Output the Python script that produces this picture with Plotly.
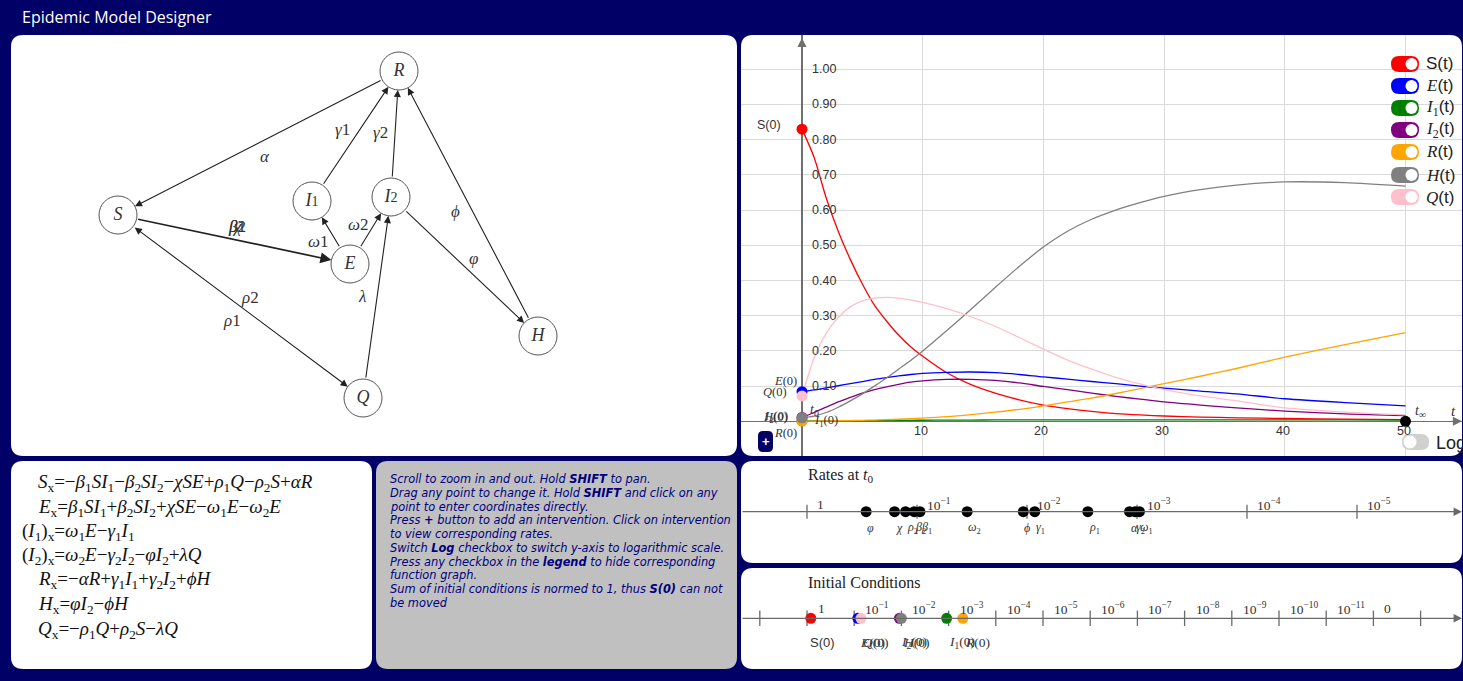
import numpy as np
import plotly.graph_objects as go

W, H = 1463, 681
NAVY = "#000066"
SERIF = "Liberation Serif"
SANS = "Liberation Sans"

# ---------------- model output (fractions of population) ----------------
t = [0, 1, 2, 3, 4, 5, 6, 7, 8, 9, 10, 12, 14, 16, 18, 20, 22, 24, 26, 28, 30, 33, 36, 40, 45, 50]
S = [0.83, 0.75, 0.635, 0.54, 0.46, 0.39, 0.33, 0.285, 0.245, 0.212, 0.185, 0.138, 0.104, 0.08,
     0.061, 0.046, 0.036, 0.028, 0.022, 0.018, 0.015, 0.012, 0.01, 0.008, 0.006, 0.005]
E = [0.084, 0.089, 0.095, 0.101, 0.107, 0.113, 0.119, 0.124, 0.129, 0.133, 0.136, 0.139, 0.14,
     0.138, 0.133, 0.126, 0.12, 0.113, 0.107, 0.1, 0.094, 0.086, 0.078, 0.064, 0.053, 0.044]
I1 = [0.0011, 0.0012, 0.0014, 0.0016, 0.0018, 0.002, 0.0022, 0.0024, 0.0026, 0.0028, 0.003,
      0.0033, 0.0036, 0.0038, 0.004, 0.0041, 0.0042, 0.0043, 0.0043, 0.0043, 0.0043, 0.0042,
      0.0041, 0.004, 0.0038, 0.0036]
I2 = [0.011, 0.025, 0.04, 0.055, 0.068, 0.08, 0.09, 0.098, 0.105, 0.111, 0.115, 0.119, 0.119,
      0.116, 0.109, 0.099, 0.09, 0.08, 0.071, 0.063, 0.055, 0.046, 0.038, 0.029, 0.021, 0.016]
R = [0.0005, 0.0007, 0.001, 0.0015, 0.002, 0.0028, 0.0036, 0.0046, 0.0058, 0.0072, 0.0088,
     0.013, 0.019, 0.026, 0.034, 0.044, 0.055, 0.066, 0.079, 0.093, 0.107, 0.128, 0.15, 0.182,
     0.218, 0.252]
Hs = [0.010, 0.015, 0.025, 0.04, 0.058, 0.078, 0.1, 0.123, 0.148, 0.173, 0.2, 0.258, 0.318, 0.38,
      0.44, 0.495, 0.54, 0.574, 0.6, 0.621, 0.639, 0.658, 0.671, 0.68, 0.678, 0.668]
Q = [0.072, 0.18, 0.25, 0.295, 0.325, 0.342, 0.35, 0.352, 0.35, 0.345, 0.338, 0.32, 0.297, 0.27,
     0.238, 0.205, 0.174, 0.148, 0.125, 0.106, 0.09, 0.072, 0.058, 0.038, 0.026, 0.018]

t_end = 50

# compartments: key, values, colour
comp_keys = ["S", "E", "I1", "I2", "R", "H", "Q"]
comp_vals = [S, E, I1, I2, R, Hs, Q]
comp_colors = ["#ff0000", "#0000ff", "#008000", "#800080", "#ffa500", "#808080", "#ffc0cb"]

# initial conditions (as plotted on the log line)
ic_keys = ["S", "E", "Q", "I2", "H", "I1", "R"]
ic_values = [0.83, 0.084, 0.072, 0.011, 0.010, 0.0011, 0.0005]
ic_colors = ["#ff0000", "#0000ff", "#ffc0cb", "#800080", "#808080", "#008000", "#ffa500"]

# transition rates at t0
rate_names = ["φ", "χ", "ρ2", "β2", "β1", "ω2", "ϕ", "γ1", "ρ1", "α", "γ2", "ω1"]
rate_values = [0.29, 0.16, 0.127, 0.106, 0.094, 0.035, 0.0108, 0.0085, 0.0028, 0.00117,
               0.00104, 0.00095]

rate_ticks = [1, 1e-1, 1e-2, 1e-3, 1e-4, 1e-5]
ic_ticks = [10.0 ** k for k in range(1, -14, -1)]
ic_tick_text = ["", "1"] + [f"10<sup>−{k}</sup>" for k in range(1, 12)] + ["0", ""]

x_ticks = [10, 20, 30, 40, 50]
y_ticks = [round(0.1 * k, 2) for k in range(1, 11)]

# compartment diagram
node_names = ["S", "E", "I1", "I2", "R", "H", "Q"]
node_x = [118, 350, 312, 391, 399, 538, 363]
node_y = [215, 264, 201, 197, 71, 336, 398]
edges = [("R", "S"), ("I1", "R"), ("I2", "R"), ("H", "R"), ("I2", "H"), ("S", "E"),
         ("E", "I1"), ("E", "I2"), ("Q", "I2"), ("S", "Q")]
edge_labels = ["α", "γ1", "γ2", "ϕ", "φ", "β1|β2|χ", "ω1", "ω2", "λ", "ρ2|ρ1"]
edge_label_x = [265, 342, 380, 455, 473, 237, 318, 358, 362, 250]
edge_label_y = [157, 130, 133, 212, 258, 227, 242, 225, 296, 297]


# ---------------- helpers ----------------
def px(x):
    return x / W


def py(y):
    return 1 - y / H


def rrect(x0, y0, x1, y1, r):
    pts = [
        ("M", [(x0 + r, y0)]), ("L", [(x1 - r, y0)]), ("Q", [(x1, y0), (x1, y0 + r)]),
        ("L", [(x1, y1 - r)]), ("Q", [(x1, y1), (x1 - r, y1)]), ("L", [(x0 + r, y1)]),
        ("Q", [(x0, y1), (x0, y1 - r)]), ("L", [(x0, y0 + r)]), ("Q", [(x0, y0), (x0 + r, y0)]),
    ]
    out = []
    for cmd, ps in pts:
        out.append(cmd + " ".join(f"{px(a):.6f},{py(b):.6f}" for a, b in ps))
    return " ".join(out) + " Z"


def math_label(key):
    # italic serif letter with an index
    if key in ("I1", "I2"):
        return f"<i>I</i><sub>{key[1]}</sub>"
    return f"<i>{key}</i>"


def greek(s):
    if len(s) == 2 and s[1].isdigit():
        return f"<i>{s[0]}</i>{s[1]}"
    return f"<i>{s}</i>"


def greek_sub(s):
    if len(s) == 2 and s[1].isdigit():
        return f"<i>{s[0]}</i><sub>{s[1]}</sub>"
    return f"<i>{s}</i>"


shapes = []
annotations = []


def note(x, y, text, size=12, color="#333333", family=SANS, xanchor="center",
         yanchor="middle", xref="paper", yref="paper", **kw):
    annotations.append(dict(x=x, y=y, text=text, xref=xref, yref=yref, showarrow=False,
                            xanchor=xanchor, yanchor=yanchor,
                            font=dict(size=size, color=color, family=family), **kw))


# ---------------- panels ----------------
panels = [
    (11, 35, 737, 456, "white"),
    (741, 35, 1462, 456, "white"),
    (11, 461, 372, 669, "white"),
    (376, 461, 737, 669, "#c0c0c0"),
    (741, 461, 1462, 563, "white"),
    (741, 568, 1462, 669, "white"),
]
for x0, y0, x1, y1, col in panels:
    shapes.append(dict(type="path", path=rrect(x0, y0, x1, y1, 12), xref="paper", yref="paper",
                       fillcolor=col, line=dict(width=0), layer="below"))

note(px(20), py(17), "Epidemic Model Designer", size=16, color="white", family="Open Sans",
     xanchor="left")

fig = go.Figure()

# ---------------- time series chart ----------------
T0X, T0Y, SX, SY = 802, 421.3, 12.07, 352.0
for key, vals, col in zip(comp_keys, comp_vals, comp_colors):
    fig.add_trace(go.Scatter(x=t, y=vals, mode="lines", xaxis="x", yaxis="y",
                             line=dict(color=col, width=1.3, shape="spline", smoothing=0.8),
                             hoverinfo="skip"))

dot_order = ["I1", "R", "I2", "H", "E", "Q", "S"]
for key in dot_order:
    i = comp_keys.index(key)
    fig.add_trace(go.Scatter(x=[t[0]], y=[comp_vals[i][0]], mode="markers", xaxis="x", yaxis="y",
                             marker=dict(color=comp_colors[i], size=11), hoverinfo="skip"))
fig.add_trace(go.Scatter(x=[t_end], y=[0], mode="markers", xaxis="x", yaxis="y",
                         marker=dict(color="black", size=11), hoverinfo="skip"))

for xv in x_ticks:
    note(xv, 0, str(xv), size=12.5, color="#333", xref="x", yref="y", yshift=-10, xshift=-2)
for yv in y_ticks:
    note(0, yv, f"{yv:.2f}", size=12.5, color="#333", xref="x", yref="y", xanchor="left", xshift=8)

# axis arrowheads
annotations.append(dict(x=0, y=(T0Y - 38) / SY, xref="x", yref="y", ax=0, ay=12, text="",
                        showarrow=True, arrowhead=2, arrowsize=1.4, arrowwidth=1.3,
                        arrowcolor="#707070"))
annotations.append(dict(x=(1462 - T0X) / SX, y=0, xref="x", yref="y", ax=-12, ay=0, text="",
                        showarrow=True, arrowhead=2, arrowsize=1.4, arrowwidth=1.3,
                        arrowcolor="#707070"))

# initial value labels
note(0, S[0], "S(0)", size=12.5, color="#333", xref="x", yref="y", xanchor="right", xshift=-19, yshift=4)
note(0, E[0], "<i>E</i>(0)", size=12.5, family=SERIF, xref="x", yref="y", xanchor="right", xshift=-3, yshift=11)
note(0, Q[0], "<i>Q</i>(0)", size=12.5, family=SERIF, xref="x", yref="y", xanchor="right", xshift=-13, yshift=4)
note(0, Hs[0], "<i>H</i>(0)", size=12.5, family=SERIF, xref="x", yref="y", xanchor="right", xshift=-12, yshift=1)
note(0, I2[0], "<i>I</i><sub>2</sub>(0)", size=12.5, family=SERIF, xref="x", yref="y", xanchor="right", xshift=-12, yshift=0)
note(0, R[0], "<i>R</i>(0)", size=12.5, family=SERIF, xref="x", yref="y", xanchor="right", xshift=-3, yshift=-12)
note(0, I1[0], "<i>I</i><sub>1</sub>(0)", size=12.5, family=SERIF, xref="x", yref="y", xanchor="left", xshift=10, yshift=0)
note(0, 0, "<i>t</i><sub>0</sub>", size=14, family=SERIF, xref="x", yref="y", xshift=13, yshift=11)
note(t_end, 0, "<i>t</i><sub>∞</sub>", size=14, family=SERIF, xref="x", yref="y", xshift=15, yshift=10)
note(px(1453), py(411), "<i>t</i>", size=15, family=SERIF)

# legend switches
legend_y = [64, 86, 108, 130, 152, 175, 197]
for key, col, yc in zip(comp_keys, comp_colors, legend_y):
    shapes.append(dict(type="path", path=rrect(1391, yc - 8, 1419, yc + 8, 8), xref="paper",
                       yref="paper", fillcolor=col, line=dict(width=0)))
    shapes.append(dict(type="circle", xref="paper", yref="paper", x0=px(1405.5), x1=px(1417.5),
                       y0=py(yc + 6), y1=py(yc - 6), fillcolor="white", line=dict(width=0)))
    lab = "S(t)" if key == "S" else f'<span style="font-family:{SERIF}">{math_label(key)}</span>(t)'
    note(px(1424), py(yc), lab, size=17, color="#222", xanchor="left")

# log switch
shapes.append(dict(type="path", path=rrect(1402, 434, 1429, 450, 8), xref="paper", yref="paper",
                   fillcolor="#d0d0d0", line=dict(width=0)))
shapes.append(dict(type="circle", xref="paper", yref="paper", x0=px(1403.5), x1=px(1416.5),
                   y0=py(448.5), y1=py(435.5), fillcolor="white", line=dict(width=0)))
note(px(1434), py(443), "Log", size=18, color="#222", xanchor="left")

# intervention button
shapes.append(dict(type="path", path=rrect(758, 431, 773, 452, 5), xref="paper", yref="paper",
                   fillcolor=NAVY, line=dict(width=0)))
note(px(765.5), py(441), "<b>+</b>", size=13, color="white")

# ---------------- rates line ----------------
LINE_C = "#6a6a6a"
annotations.append(dict(x=px(1462), y=py(511.7), xref="paper", yref="paper", ax=-(1462 - 741),
                        ay=0, text="", showarrow=True, arrowhead=2, arrowsize=1.3,
                        arrowwidth=1.3, arrowcolor=LINE_C))
fig.add_trace(go.Scatter(x=rate_ticks, y=[0] * len(rate_ticks), mode="markers", xaxis="x2",
                         yaxis="y2", marker=dict(symbol="line-ns", size=10,
                                                 line=dict(width=1.3, color=LINE_C)),
                         hoverinfo="skip"))
fig.add_trace(go.Scatter(x=rate_values, y=[0] * len(rate_values), mode="markers", xaxis="x2",
                         yaxis="y2", marker=dict(color="black", size=11), hoverinfo="skip"))
for v in rate_ticks:
    k = int(round(-np.log10(v)))
    txt = "1" if k == 0 else f"10<sup>−{k}</sup>"
    note(np.log10(v), 7.5, txt, size=13.5, family=SERIF, xref="x2", yref="y2",
         xanchor="left", xshift=8)
for name, v in zip(rate_names, rate_values):
    note(np.log10(v), -16, greek_sub(name), size=12, family=SERIF, xref="x2", yref="y2",
         xanchor="left", xshift=-1)
note(px(806), py(475), "Rates at <i>t</i><sub>0</sub>", size=16, color="#222", family=SERIF,
     xanchor="left")

# ---------------- initial conditions line ----------------
annotations.append(dict(x=px(1462), y=py(618.3), xref="paper", yref="paper", ax=-(1462 - 741),
                        ay=0, text="", showarrow=True, arrowhead=2, arrowsize=1.3,
                        arrowwidth=1.3, arrowcolor=LINE_C))
fig.add_trace(go.Scatter(x=ic_ticks, y=[0] * len(ic_ticks), mode="markers", xaxis="x3",
                         yaxis="y3", marker=dict(symbol="line-ns", size=11,
                                                 line=dict(width=1.3, color=LINE_C)),
                         hoverinfo="skip"))
fig.add_trace(go.Scatter(x=ic_values, y=[0] * len(ic_values), mode="markers", xaxis="x3",
                         yaxis="y3", marker=dict(color=ic_colors, size=11), hoverinfo="skip"))
for v, txt in zip(ic_ticks, ic_tick_text):
    if txt:
        note(np.log10(v), 10, txt, size=13.5, family=SERIF, xref="x3", yref="y3",
             xanchor="left", xshift=9)
for key, v in zip(ic_keys, ic_values):
    if key == "S":
        note(np.log10(v), -24, "S(0)", size=13, color="#333", xref="x3", yref="y3",
             xanchor="left", xshift=-3)
    else:
        note(np.log10(v), -24, f"{math_label(key)}(0)", size=13.5, family=SERIF, xref="x3",
             yref="y3", xanchor="left", xshift=0)
note(px(806), py(582), "Initial Conditions", size=16, color="#222", family=SERIF, xanchor="left")

# ---------------- compartment diagram ----------------
pos = {n: (x, y) for n, x, y in zip(node_names, node_x, node_y)}
for (a, b), lab, lx, ly in zip(edges, edge_labels, edge_label_x, edge_label_y):
    (xa, ya), (xb, yb) = pos[a], pos[b]
    both = (a, b) == ("S", "Q")
    annotations.append(dict(x=xb, y=yb, ax=xa, ay=ya, xref="x4", yref="y4", axref="x4",
                            ayref="y4", text="", showarrow=True, arrowhead=2, arrowsize=1.3,
                            arrowwidth=1.7 if (a, b) == ("S", "E") else 1.1,
                            arrowcolor="#222", standoff=19, startstandoff=19,
                            arrowside="end+start" if both else "end", startarrowhead=2,
                            startarrowsize=1.3))
    parts = lab.split("|")
    if len(parts) == 2 and parts[0].startswith("ρ"):
        note(lx, ly, greek(parts[0]), size=17, family=SERIF, color="#333", xref="x4", yref="y4")
        note(lx - 18, ly + 23, greek(parts[1]), size=17, family=SERIF, color="#333", xref="x4", yref="y4")
    else:
        for p in parts:
            note(lx, ly, greek(p), size=17, family=SERIF, color="#333", xref="x4", yref="y4")

fig.add_trace(go.Scatter(x=node_x, y=node_y, mode="markers+text", xaxis="x4", yaxis="y4",
                         marker=dict(size=38, color="white", line=dict(color="#555", width=1)),
                         text=[f'<i>I</i><span style="font-size:14px">{n[1]}</span>'
                               if n.startswith("I") else f"<i>{n}</i>" for n in node_names],
                         textposition="middle center",
                         textfont=dict(family=SERIF, size=18, color="#333"), hoverinfo="skip"))

# ---------------- equations ----------------
eq_lines = [
    "<i>S</i><sub>x</sub>=−<i>β</i><sub>1</sub><i>SI</i><sub>1</sub>−<i>β</i><sub>2</sub><i>SI</i><sub>2</sub>−<i>χSE</i>+<i>ρ</i><sub>1</sub><i>Q</i>−<i>ρ</i><sub>2</sub><i>S</i>+<i>αR</i>",
    "<i>E</i><sub>x</sub>=<i>β</i><sub>1</sub><i>SI</i><sub>1</sub>+<i>β</i><sub>2</sub><i>SI</i><sub>2</sub>+<i>χSE</i>−<i>ω</i><sub>1</sub><i>E</i>−<i>ω</i><sub>2</sub><i>E</i>",
    "(<i>I</i><sub>1</sub>)<sub>x</sub>=<i>ω</i><sub>1</sub><i>E</i>−<i>γ</i><sub>1</sub><i>I</i><sub>1</sub>",
    "(<i>I</i><sub>2</sub>)<sub>x</sub>=<i>ω</i><sub>2</sub><i>E</i>−<i>γ</i><sub>2</sub><i>I</i><sub>2</sub>−<i>φI</i><sub>2</sub>+<i>λQ</i>",
    "<i>R</i><sub>x</sub>=−<i>αR</i>+<i>γ</i><sub>1</sub><i>I</i><sub>1</sub>+<i>γ</i><sub>2</sub><i>I</i><sub>2</sub>+<i>ϕH</i>",
    "<i>H</i><sub>x</sub>=<i>φI</i><sub>2</sub>−<i>ϕH</i>",
    "<i>Q</i><sub>x</sub>=−<i>ρ</i><sub>1</sub><i>Q</i>+<i>ρ</i><sub>2</sub><i>S</i>−<i>λQ</i>",
]
eq_x = [36, 36, 20, 20, 36, 36, 36]
eq_y = [483, 508, 532, 556, 580, 605, 630]
for txt, xx, yy in zip(eq_lines, eq_x, eq_y):
    note(px(xx), py(yy), txt, size=19, color="#111", family=SERIF, xanchor="left")

# ---------------- help text ----------------
help_lines = [
    "Scroll to zoom in and out. Hold <b>SHIFT</b> to pan.",
    "Drag any point to change it. Hold <b>SHIFT</b> and click on any",
    "point to enter coordinates directly.",
    "Press <b>+</b> button to add an intervention. Click on intervention",
    "to view corresponding rates.",
    "Switch <b>Log</b> checkbox to switch y-axis to logarithmic scale.",
    "Press any checkbox in the <b>legend</b> to hide corresponding",
    "function graph.",
    "Sum of initial conditions is normed to 1, thus <b>S(0)</b> can not",
    "be moved",
]
for i, txt in enumerate(help_lines):
    note(px(387.5), py(479 + 13.75 * i), f"<i>{txt}</i>", size=11.4, color="#000080",
         family="DejaVu Sans", xanchor="left")

# ---------------- layout ----------------
hidden = dict(visible=False, fixedrange=True)
fig.update_layout(
    width=W, height=H, autosize=False,
    margin=dict(l=0, r=0, t=0, b=0, pad=0),
    paper_bgcolor=NAVY, plot_bgcolor="rgba(0,0,0,0)",
    showlegend=False, hovermode=False,
    xaxis=dict(domain=[px(741), px(1462)], range=[(741 - T0X) / SX, (1462 - T0X) / SX],
               anchor="y", tick0=0, dtick=10, showgrid=True, gridcolor="#dadada", gridwidth=1,
               zeroline=True, zerolinecolor="#707070", zerolinewidth=1.5,
               showticklabels=False, ticks="", showline=False, fixedrange=True),
    yaxis=dict(domain=[1 - 456 / H, 1 - 35 / H], range=[(T0Y - 456) / SY, (T0Y - 35) / SY],
               anchor="x", tick0=0, dtick=0.1, showgrid=True, gridcolor="#dadada", gridwidth=1,
               zeroline=True, zerolinecolor="#707070", zerolinewidth=1.5,
               showticklabels=False, ticks="", showline=False, fixedrange=True),
    xaxis2=dict(type="log", domain=[px(741), px(1462)],
                range=[(807 - 741) / 110, -(1462 - 807) / 110], anchor="y2", **hidden),
    yaxis2=dict(domain=[1 - 563 / H, 1 - 461 / H], range=[-(563 - 511.7), 511.7 - 461],
                anchor="x2", **hidden),
    xaxis3=dict(type="log", domain=[px(741), px(1462)],
                range=[(807 - 741) / 47.2, -(1462 - 807) / 47.2], anchor="y3", **hidden),
    yaxis3=dict(domain=[1 - 669 / H, 1 - 568 / H], range=[-(669 - 618.3), 618.3 - 568],
                anchor="x3", **hidden),
    xaxis4=dict(domain=[px(11), px(737)], range=[11, 737], anchor="y4", **hidden),
    yaxis4=dict(domain=[1 - 456 / H, 1 - 35 / H], range=[456, 35], anchor="x4", **hidden),
    shapes=shapes,
    annotations=annotations,
)

fig.write_html("out.html", config={"displayModeBar": False, "staticPlot": True})
